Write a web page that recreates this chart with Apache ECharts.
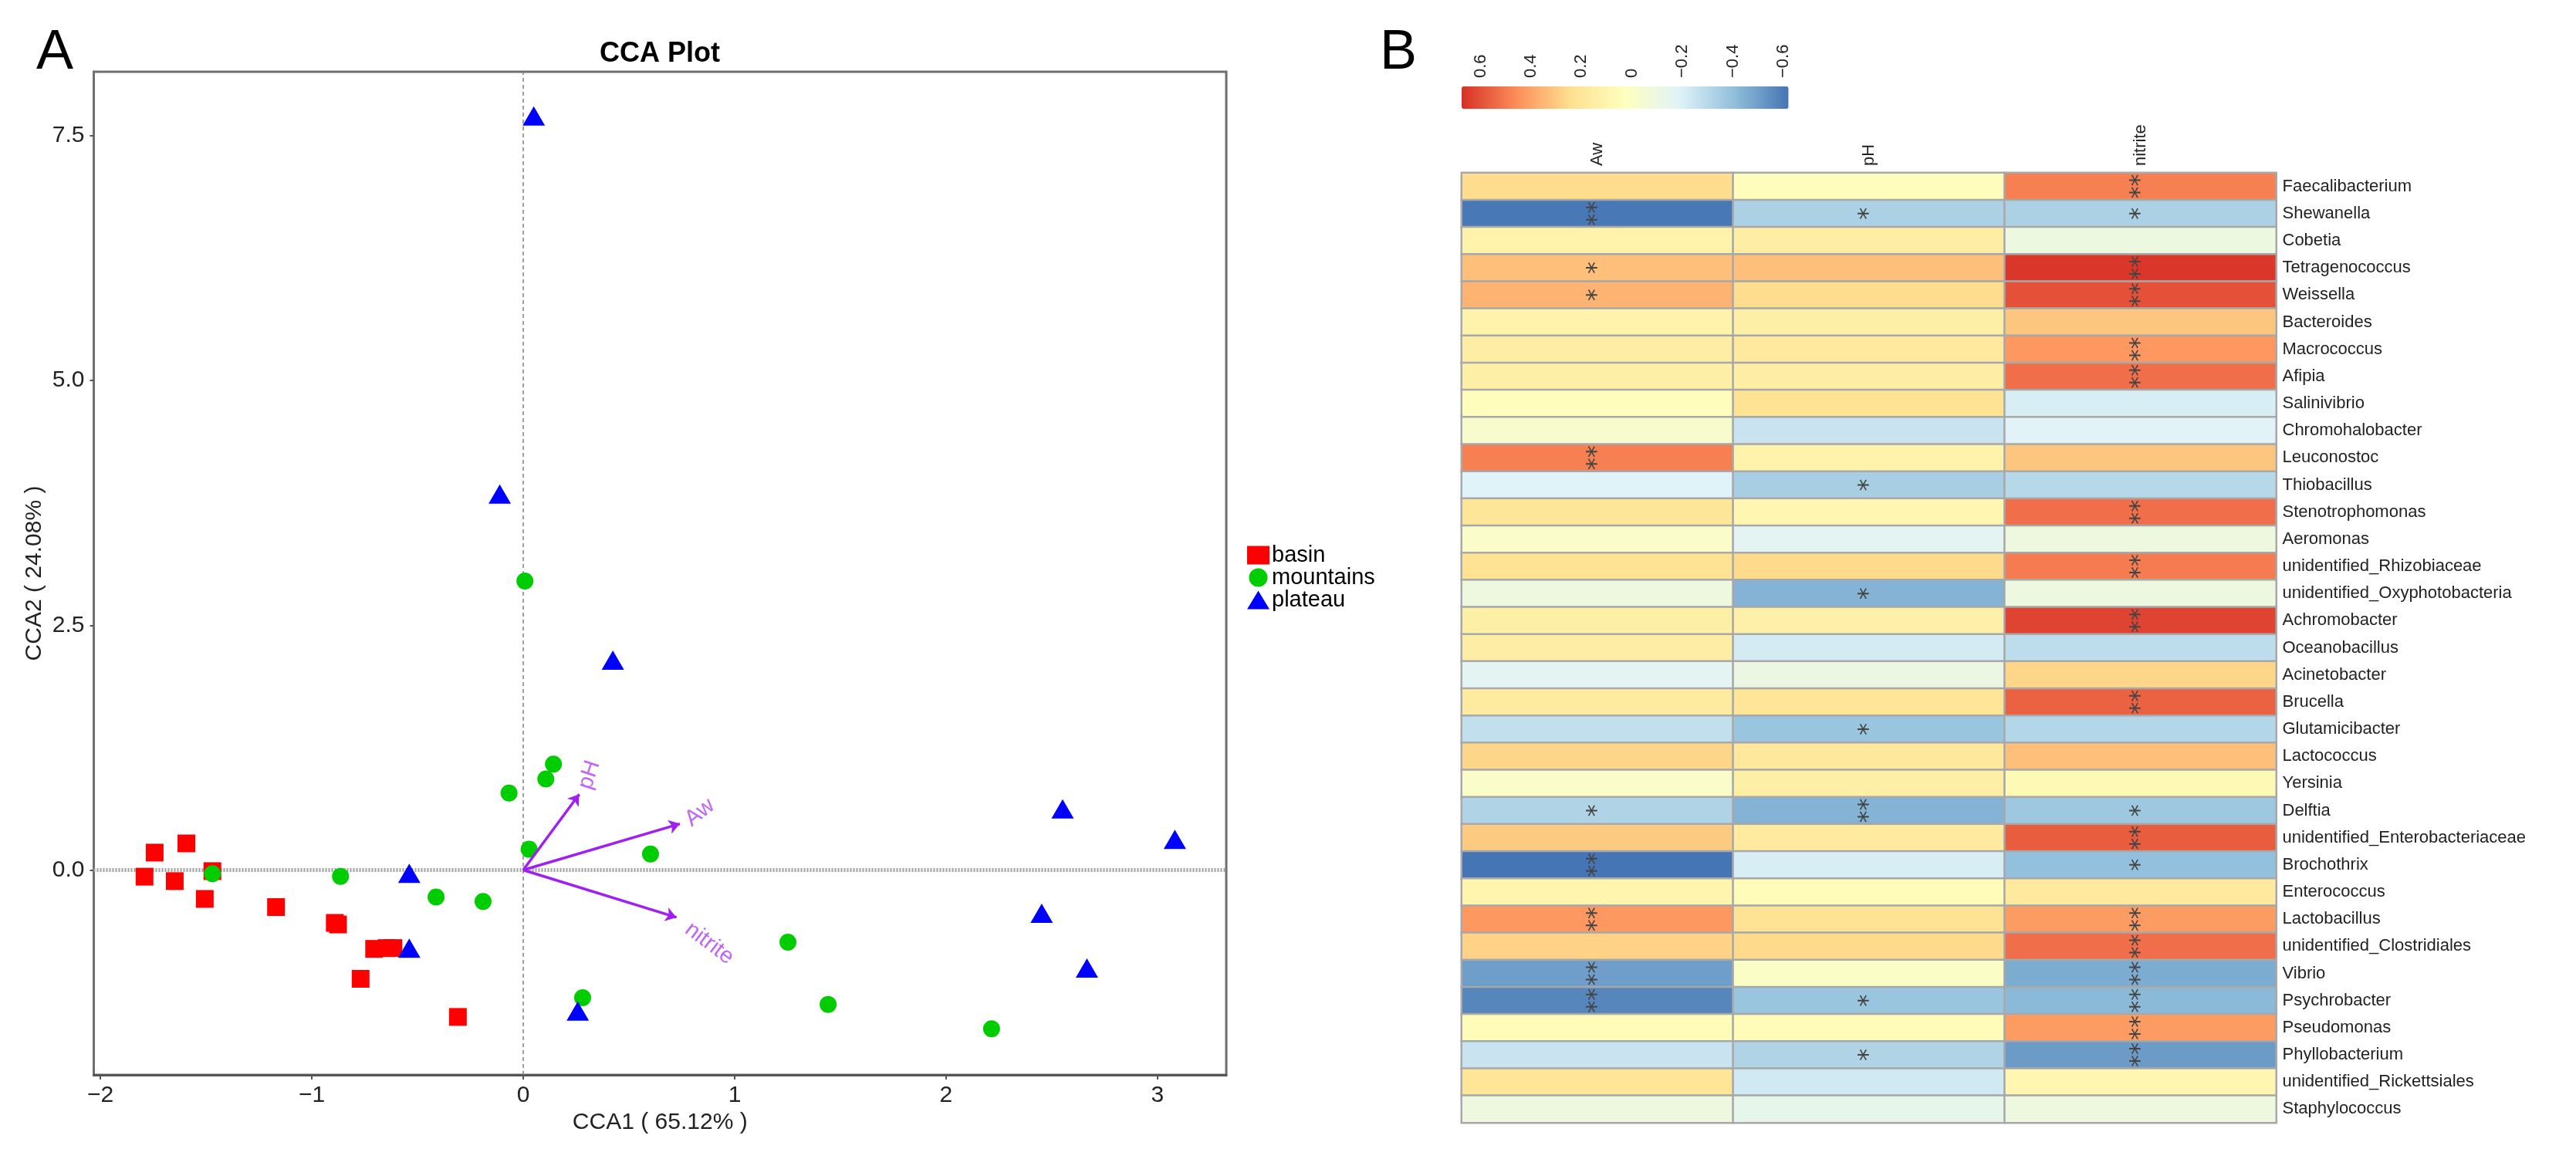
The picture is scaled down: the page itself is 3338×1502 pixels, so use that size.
<!DOCTYPE html>
<html>
<head>
<meta charset="utf-8">
<title>CCA Plot</title>
<script src="https://cdn.jsdelivr.net/npm/echarts@6/dist/echarts.min.js"></script>
<style>
html, body { margin: 0; padding: 0; background: #fff; }
#main { width: 3338px; height: 1502px; }
</style>
</head>
<body>
<div id="main"></div>
<script>
// panel A, site scores
var basinX = [-1.593, -1.743, -1.47, -1.791, -1.648, -1.506, -1.169, -0.891, -0.876, -0.705, -0.646, -0.614, -0.769, -0.309];
var basinY = [0.272, 0.178, -0.011, -0.068, -0.113, -0.295, -0.378, -0.54, -0.556, -0.805, -0.797, -0.797, -1.111, -1.5];
var mountainsX = [0.008, 0.143, 0.107, -0.067, 0.028, 0.602, -1.47, -0.864, -0.412, -0.19, 1.252, 0.281, 1.442, 2.215];
var mountainsY = [2.951, 1.081, 0.93, 0.786, 0.212, 0.163, -0.038, -0.064, -0.276, -0.321, -0.737, -1.304, -1.372, -1.621];
var plateauX = [0.05, -0.111, 0.424, 2.551, 3.082, -0.539, -0.539, 2.452, 2.666, 0.258];
var plateauY = [7.70, 3.84, 2.143, 0.624, 0.314, -0.034, -0.797, -0.442, -1.0, -1.44];

// panel A, environmental arrows
var envNames = ['pH', 'Aw', 'nitrite'];
var envX = [0.265, 0.741, 0.725];
var envY = [0.775, 0.472, -0.484];

var cca1Ticks = [-2, -1, 0, 1, 2, 3];
var cca2Ticks = [0, 2.5, 5, 7.5];
var colorbarTicks = [0.6, 0.4, 0.2, 0, -0.2, -0.4, -0.6];

// panel B
var factors = ['Aw', 'pH', 'nitrite'];
var genera = ['Faecalibacterium', 'Shewanella', 'Cobetia', 'Tetragenococcus', 'Weissella', 'Bacteroides', 'Macrococcus',
    'Afipia', 'Salinivibrio', 'Chromohalobacter', 'Leuconostoc', 'Thiobacillus', 'Stenotrophomonas', 'Aeromonas',
    'unidentified_Rhizobiaceae', 'unidentified_Oxyphotobacteria', 'Achromobacter', 'Oceanobacillus', 'Acinetobacter',
    'Brucella', 'Glutamicibacter', 'Lactococcus', 'Yersinia', 'Delftia', 'unidentified_Enterobacteriaceae', 'Brochothrix',
    'Enterococcus', 'Lactobacillus', 'unidentified_Clostridiales', 'Vibrio', 'Psychrobacter', 'Pseudomonas',
    'Phyllobacterium', 'unidentified_Rickettsiales', 'Staphylococcus'];
var awValues = [0.25, -0.61, 0.12, 0.33, 0.36, 0.12, 0.15, 0.14, 0.04, -0.02, 0.49, -0.19, 0.2, -0.01, 0.22, -0.09, 0.14, 0.15,
    -0.17, 0.17, -0.27, 0.27, -0.01, -0.32, 0.3, -0.62, 0.1, 0.43, 0.28, -0.5, -0.57, 0.05, -0.25, 0.21, -0.09];
var phValues = [0.04, -0.33, 0.15, 0.33, 0.25, 0.14, 0.18, 0.15, 0.22, -0.25, 0.12, -0.34, 0.09, -0.17, 0.26, -0.44, 0.13, -0.22,
    -0.11, 0.21, -0.38, 0.19, 0.14, -0.44, 0.17, -0.21, 0.05, 0.22, 0.26, -0.0, -0.38, 0.05, -0.32, -0.23, -0.14];
var nitriteValues = [0.49, -0.33, -0.1, 0.66, 0.6, 0.31, 0.43, 0.53, -0.21, -0.18, 0.31, -0.3, 0.53, -0.09, 0.5, -0.1, 0.63, -0.28,
    0.27, 0.56, -0.31, 0.33, 0.07, -0.37, 0.57, -0.4, 0.18, 0.42, 0.53, -0.46, -0.42, 0.42, -0.51, 0.09, -0.09];
var awStars = ['', '**', '', '*', '*', '', '', '', '', '', '**', '', '', '', '', '', '', '',
    '', '', '', '', '', '*', '', '**', '', '**', '', '**', '**', '', '', '', ''];
var phStars = ['', '*', '', '', '', '', '', '', '', '', '', '*', '', '', '', '*', '', '',
    '', '', '*', '', '', '**', '', '', '', '', '', '', '*', '', '*', '', ''];
var nitriteStars = ['**', '*', '', '**', '**', '', '**', '**', '', '', '', '', '**', '', '**', '', '**', '',
    '', '**', '', '', '', '*', '**', '*', '', '**', '**', '**', '**', '**', '**', '', ''];

var FONT = '"Liberation Sans", Arial, sans-serif';
var purple = '#a020f0';

function zip(xs, ys) {
    return xs.map(function (x, i) { return [x, ys[i]]; });
}

function minus(v) {
    return String(v).replace('-', '\u2212');
}

var heatData = [];
[awValues, phValues, nitriteValues].forEach(function (vals, c) {
    var stars = [awStars, phStars, nitriteStars][c];
    vals.forEach(function (v, r) {
        heatData.push([c, r, v, stars[r]]);
    });
});

// hand placed, the labels do not follow the arrow angle in the original
var envLabelPos = { pH: [0.313, 0.971, 72], Aw: [0.836, 0.586, 38], nitrite: [0.88, -0.75, -37] };

var chart = echarts.init(document.getElementById('main'), null, { renderer: 'canvas' });

var opts = {
    backgroundColor: '#fff',
    animation: false,
    textStyle: { fontFamily: FONT },
    title: [
        { text: 'A', left: 47, top: 33, textStyle: { fontFamily: FONT, fontSize: 72, fontWeight: 'normal', color: '#000' }, padding: 0 },
        { text: 'B', left: 1788, top: 33, textStyle: { fontFamily: FONT, fontSize: 72, fontWeight: 'normal', color: '#000' }, padding: 0 },
        { text: 'CCA Plot', left: 855, top: 52, textAlign: 'center', textStyle: { fontFamily: FONT, fontSize: 36, fontWeight: 'bold', color: '#000' }, padding: 0 }
    ],
    legend: {
        data: ['basin', 'mountains', 'plateau'],
        orient: 'vertical',
        left: 1616,
        top: 705,
        padding: 0,
        itemWidth: 29,
        itemHeight: 24,
        itemGap: 0,
        textStyle: { fontFamily: FONT, fontSize: 29, color: '#000', padding: [0, 0, 0, -2] },
        selectedMode: false
    },
    grid: [
        { left: 121.5, top: 93, width: 1467.5, height: 1300, show: true, borderColor: '#6e6e6e', borderWidth: 3, backgroundColor: '#fff' },
        { left: 1894, top: 224, width: 1055.5, height: 1231 },
        { left: 1894, top: 112, width: 423.6, height: 29 }
    ],
    xAxis: [
        {
            gridIndex: 0, type: 'value', min: -2.031, max: 3.325, position: 'bottom',
            name: 'CCA1 ( 65.12% )', nameLocation: 'middle', nameGap: 40,
            nameTextStyle: { fontFamily: FONT, fontSize: 30, color: '#222', verticalAlign: 'top' },
            splitLine: { show: false },
            axisLine: { onZero: false, show: true, lineStyle: { color: '#555', width: 3 } },
            axisTick: { show: true, length: 6, customValues: cca1Ticks, lineStyle: { color: '#555', width: 2 } },
            axisLabel: {
                customValues: cca1Ticks, margin: 12, fontSize: 30, color: '#222',
                formatter: function (v) { return minus(v); }
            }
        },
        {
            gridIndex: 1, type: 'category', data: factors, position: 'top',
            axisLine: { show: false }, axisTick: { show: false }, splitLine: { show: false },
            axisLabel: { rotate: -90, margin: 9, fontSize: 22, color: '#222', interval: 0 }
        },
        {
            gridIndex: 2, type: 'value', min: -0.62, max: 0.675, inverse: true, position: 'top',
            axisLine: { show: false }, axisTick: { show: false }, splitLine: { show: false },
            axisLabel: {
                customValues: colorbarTicks, rotate: 90, margin: 11, fontSize: 22, color: '#222',
                formatter: function (v) { return minus(v); }
            }
        }
    ],
    yAxis: [
        {
            gridIndex: 0, type: 'value', min: -2.092, max: 8.152, position: 'left',
            name: 'CCA2 ( 24.08% )', nameLocation: 'middle', nameGap: 62,
            nameTextStyle: { fontFamily: FONT, fontSize: 30, color: '#222' },
            splitLine: { show: false },
            axisLine: { onZero: false, show: true, lineStyle: { color: '#6e6e6e', width: 3 } },
            axisTick: { show: true, length: 5, customValues: cca2Ticks, lineStyle: { color: '#555', width: 2 } },
            axisLabel: {
                customValues: cca2Ticks, margin: 12, fontSize: 30, color: '#222',
                formatter: function (v) { return v.toFixed(1); }
            }
        },
        {
            gridIndex: 1, type: 'category', data: genera, inverse: true, position: 'right',
            axisLine: { show: false }, axisTick: { show: false }, splitLine: { show: false },
            axisLabel: { margin: 8, fontSize: 22, color: '#222', interval: 0 }
        },
        { gridIndex: 2, type: 'value', show: false, min: 0, max: 1 }
    ],
    visualMap: {
        type: 'continuous',
        seriesIndex: 5,
        dimension: 2,
        min: -0.62,
        max: 0.675,
        inverse: true,
        orient: 'horizontal',
        left: 1894,
        top: 112,
        padding: 0,
        itemWidth: 29,
        itemHeight: 423.6,
        text: null,
        showLabel: false,
        calculable: false,
        realtime: false,
        inRange: { color: ['#4575B4', '#91BFDB', '#E0F3F8', '#FFFFBF', '#FEE090', '#FC8D59', '#D73027'] }
    },
    series: [
        {
            name: 'basin', type: 'scatter', xAxisIndex: 0, yAxisIndex: 0, symbol: 'rect', symbolSize: 23,
            itemStyle: { color: '#ff0000', opacity: 1 }, data: zip(basinX, basinY),
            markLine: {
                silent: true, symbol: 'none', label: { show: false }, z: 1,
                data: [
                    { xAxis: 0, lineStyle: { color: '#808080', width: 1.5, type: [5, 4] } },
                    { yAxis: 0, lineStyle: { color: '#a0a0a0', width: 5, type: [2, 2] } }
                ]
            }
        },
        {
            name: 'mountains', type: 'scatter', xAxisIndex: 0, yAxisIndex: 0, symbol: 'circle', symbolSize: 22,
            itemStyle: { color: '#00cd00', opacity: 1 }, data: zip(mountainsX, mountainsY)
        },
        {
            name: 'plateau', type: 'scatter', xAxisIndex: 0, yAxisIndex: 0, symbol: 'triangle', symbolSize: [29, 25],
            itemStyle: { color: '#0000ff', opacity: 1 }, data: zip(plateauX, plateauY)
        },
        {
            name: 'arrows', type: 'lines', coordinateSystem: 'cartesian2d', xAxisIndex: 0, yAxisIndex: 0, z: 5,
            symbol: ['none', 'arrow'], symbolSize: 14,
            lineStyle: { color: purple, width: 3.5, opacity: 1, curveness: 0 },
            data: envNames.map(function (n, i) {
                return { coords: [[0, 0], [envX[i], envY[i]]] };
            })
        },
        {
            name: 'arrow labels', type: 'scatter', xAxisIndex: 0, yAxisIndex: 0, symbolSize: 0, z: 5,
            data: envNames.map(function (n) {
                var p = envLabelPos[n];
                return {
                    name: n, value: [p[0], p[1]],
                    label: { show: true, position: 'inside', formatter: n, rotate: p[2], fontSize: 29, color: '#b040f0' }
                };
            })
        },
        {
            name: 'correlation', type: 'heatmap', xAxisIndex: 1, yAxisIndex: 1,
            itemStyle: { borderColor: '#a8a8a8', borderWidth: 2.5 },
            label: {
                show: true, rotate: 90, color: '#444', fontFamily: '"DejaVu Sans"', fontSize: 32,
                formatter: function (p) { return p.value[3]; }
            },
            data: heatData
        }
    ]
};

chart.setOption(opts);
</script>
</body>
</html>
